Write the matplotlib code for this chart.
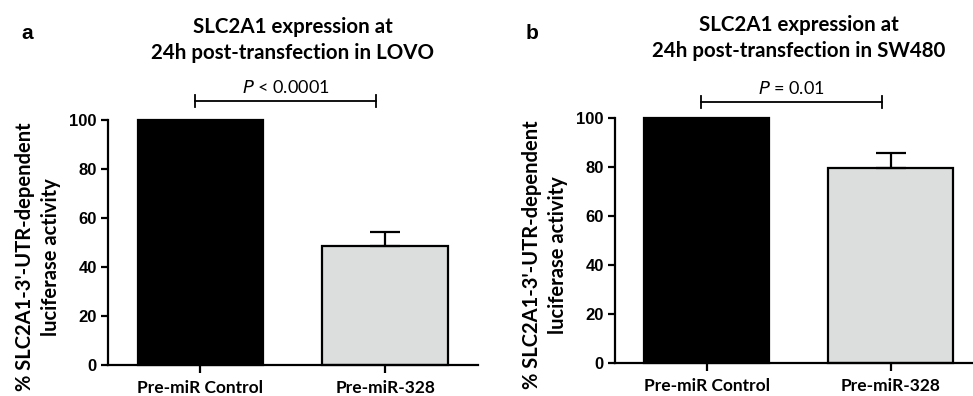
import numpy as np
import matplotlib.pyplot as plt

categories = ['Pre-miR Control', 'Pre-miR-328']
lovo_values = [100, 48.4]
lovo_err = [0, 5.7]
sw480_values = [100, 79.7]
sw480_err = [0, 6.1]
yticks = [0, 20, 40, 60, 80, 100]

titles = ['SLC2A1 expression at\n24h post-transfection in LOVO',
          'SLC2A1 expression at\n24h post-transfection in SW480']
pvals = [r'$\it{P}$ < 0.0001', r'$\it{P}$ = 0.01']
panel_letters = ['a', 'b']
ylabel = "% SLC2A1-3'-UTR-dependent\nluciferase activity"

bar_colors = ['black', '#dcdedd']
lw = 1.6

fig = plt.figure(figsize=(9.73, 3.96), dpi=100)
ax_a = fig.add_axes([0.111, 0.079, 0.380, 0.618])
ax_b = fig.add_axes([0.632, 0.084, 0.378, 0.618])

panels = [
    (ax_a, lovo_values, lovo_err, 107.8),
    (ax_b, sw480_values, sw480_err, 106.4),
]

for i, (ax, vals, errs, bracket_y) in enumerate(panels):
    x = np.arange(len(categories))
    ax.bar(x, vals, width=0.68, color=bar_colors, edgecolor='black',
           linewidth=lw, clip_on=False, zorder=2)
    # upper whisker only, GraphPad style
    ax.errorbar(x[1:], vals[1:], yerr=[[0] * (len(x) - 1), errs[1:]], fmt='none',
                ecolor='black', elinewidth=lw, capsize=11, capthick=lw,
                clip_on=False, zorder=3)
    ax.set_xlim(-0.5, 1.5)
    ax.set_ylim(0, 100)
    ax.set_yticks(yticks)
    ax.set_xticks(x)
    ax.set_xticklabels(categories, fontfamily='Lato', fontweight='bold', fontsize=12.5)
    for lab in ax.get_yticklabels():
        lab.set_fontfamily('Liberation Sans')
        lab.set_fontweight('bold')
        lab.set_fontsize(12)
    ax.tick_params(axis='both', width=lw, length=5, pad=3, color='black')
    ax.tick_params(axis='x', length=6, pad=5)
    for side in ['top', 'right']:
        ax.spines[side].set_visible(False)
    for side in ['left', 'bottom']:
        ax.spines[side].set_linewidth(lw)
    ax.set_ylabel(ylabel, fontfamily='Lato', fontweight='bold', fontsize=14.5,
                  linespacing=1.35, labelpad=6, y=0.44)

    # significance bracket
    x0, x1 = -0.03, 0.95
    ax.plot([x0, x1], [bracket_y, bracket_y], color='black', lw=1.3, clip_on=False)
    for xe in (x0, x1):
        ax.plot([xe, xe], [bracket_y - 2.4, bracket_y + 2.4], color='black',
                lw=1.3, clip_on=False)
    ax.text((x0 + x1) / 2, bracket_y + 2.2, pvals[i], ha='center', va='bottom',
            fontfamily='Lato', fontsize=13)

    ax.set_title(titles[i], fontfamily='Lato', fontweight='bold', fontsize=14.8,
                 linespacing=1.35, pad=44)

fig.text(0.022, 0.915, panel_letters[0], fontfamily='Liberation Sans',
         fontweight='bold', fontsize=15, va='center')
fig.text(0.540, 0.915, panel_letters[1], fontfamily='Liberation Sans',
         fontweight='bold', fontsize=15, va='center')

fig.savefig('out.png', dpi=100)
